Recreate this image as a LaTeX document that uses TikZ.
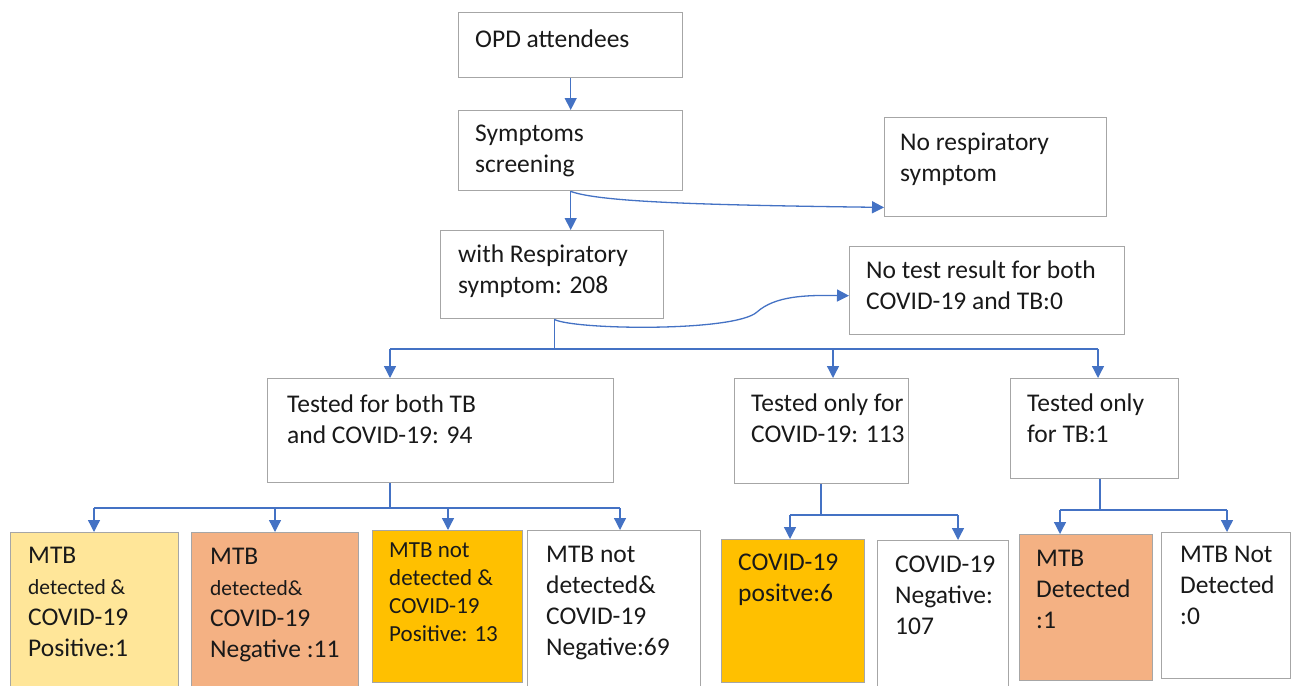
\documentclass[tikz,border=0pt]{standalone}
\usepackage{fontspec}
\setmainfont{Carlito}
\usetikzlibrary{arrows.meta,calc}
\definecolor{edgegray}{HTML}{A6A6A6}
\definecolor{linkblue}{HTML}{4472C4}
\definecolor{paleyellow}{HTML}{FFE699}
\definecolor{peach}{HTML}{F4B183}
\definecolor{amber}{HTML}{FFC000}
\begin{document}
% Text nodes are placed by the baseline of their last line.
\begin{tikzpicture}[x=1pt,y=-1pt,
  box/.style={draw=edgegray,line width=1.4pt,rectangle,anchor=north west,inner sep=0pt},
  txt/.style={anchor=base west,align=left,inner sep=0pt,font=\fontsize{25.5}{31}\selectfont,text=black!90},
  small/.style={txt,font=\fontsize{23}{28}\selectfont},
  link/.style={draw=linkblue,line width=1.3pt},
  arr/.style={link,-{Triangle[width=12pt,length=12pt]}}]
\useasboundingbox (0,0) rectangle (1295,685);

% ---------- upper chain ----------
\node[box,minimum width=224pt,minimum height=65pt] (opd) at (458,12) {};
\node[txt] (opdt) at (475,48) {OPD attendees};

\node[box,minimum width=224pt,minimum height=80pt] (scr) at (458,110) {};
\node[txt] (scrt) at (475,172) {Symptoms\\screening};

\node[box,minimum width=222pt,minimum height=99pt] (nores) at (884,117) {};
\node[txt] (norest) at (900,181) {No respiratory\\symptom};

\node[box,minimum width=223pt,minimum height=88pt] (resp) at (440,230) {};
\node[txt] (respt) at (458,293) {with Respiratory\\symptom: 208};

\node[box,minimum width=275pt,minimum height=88pt] (notest) at (849,246) {};
\node[txt] (notestt) at (866,309) {No test result for both\\COVID-19 and TB:0};

% ---------- test groups ----------
\node[box,minimum width=346pt,minimum height=104pt] (both) at (267,378) {};
\node[txt] (botht) at (287,443) {Tested for both TB\\and COVID-19: 94};

\node[box,minimum width=174pt,minimum height=105pt] (cov) at (734,378) {};
\node[txt] (covt) at (751,442) {Tested only for\\COVID-19: 113};

\node[box,minimum width=168pt,minimum height=100pt] (tb) at (1010,378) {};
\node[txt] (tbt) at (1027,442) {Tested only\\for TB:1};

% ---------- outcomes ----------
\node[box,fill=paleyellow,minimum width=168pt,minimum height=160pt] (o1) at (10,532) {};
\node[txt] (o1t) at (28,656) {MTB\\{\fontsize{21.5}{31}\selectfont detected \&}\\COVID-19\\Positive:1};

\node[box,fill=peach,minimum width=167pt,minimum height=160pt] (o2) at (191,532) {};
\node[txt] (o2t) at (210,657) {MTB\\{\fontsize{21.5}{31}\selectfont detected\&}\\COVID-19\\Negative :11};

\node[box,fill=amber,minimum width=150pt,minimum height=152pt] (o3) at (372,530) {};
\node[small] (o3t) at (389,641) {MTB not\\detected \&\\COVID-19\\Positive: 13};

\node[box,minimum width=173pt,minimum height=160pt] (o4) at (527,530) {};
\node[txt] (o4t) at (546,655) {MTB not\\detected\&\\COVID-19\\Negative:69};

\node[box,fill=amber,minimum width=143pt,minimum height=143pt] (o5) at (721,539) {};
\node[txt] (o5t) at (738,601) {COVID-19\\positve:6};

\node[box,minimum width=131pt,minimum height=150pt] (o6) at (877,540) {};
\node[txt] (o6t) at (895,634) {COVID-19\\Negative:\\107};

\node[box,fill=peach,minimum width=133pt,minimum height=146pt] (o7) at (1019,534) {};
\node[txt] (o7t) at (1036,628) {MTB\\Detected\\:1};

\node[box,minimum width=129pt,minimum height=146pt] (o8) at (1161,532) {};
\node[txt] (o8t) at (1180,624) {MTB Not\\Detected\\:0};

% ---------- connectors ----------
\draw[arr] (opd.south) -- (scr.north);
\draw[arr] (scr.south) -- (scr.south |- resp.north);
\coordinate (nr) at ($(nores.south west)+(0,-10)$);
\draw[arr] (scr.south) .. controls (600,202) and (700,205) .. (nr);

\coordinate (nt) at ($(notest.west)+(0,5)$);
\draw[arr] ($(resp.south)+(2,0)$) .. controls (575,330) and (735,332) .. (757,312)
  .. controls (775,296) and (805,295) .. (nt);

\coordinate (j1) at ($(resp.south)+(2,31)$);
\coordinate (b1) at (390,349);
\coordinate (b2) at (833,349);
\coordinate (b3) at (1098,349);
\draw[link] ($(resp.south)+(2,0)$) -- (j1);
\draw[link] (b1) -- (b3);
\draw[arr] (b1) -- (b1 |- both.north);
\draw[arr] (b2) -- (b2 |- cov.north);
\draw[arr] (b3) -- (b3 |- tb.north);

\coordinate (j2) at (390,508);
\coordinate (c1) at (94,508);
\coordinate (c2) at (275,508);
\coordinate (c3) at (448,508);
\coordinate (c4) at (620,508);
\draw[link] (j2 |- both.south) -- (j2);
\draw[link] (c1) -- (c4);
\draw[arr] (c1) -- (c1 |- o1.north);
\draw[arr] (c2) -- (c2 |- o2.north);
\draw[arr] (c3) -- (c3 |- o3.north);
\draw[arr] (c4) -- (c4 |- o4.north);

\coordinate (j3) at (821,515);
\coordinate (d1) at (790,515);
\coordinate (d2) at (958,515);
\draw[link] (j3 |- cov.south) -- (j3);
\draw[link] (d1) -- (d2);
\draw[arr] (d1) -- (d1 |- o5.north);
\draw[arr] (d2) -- (d2 |- o6.north);

\coordinate (j4) at (1100,510);
\coordinate (e1) at (1060,510);
\coordinate (e2) at (1227,510);
\draw[link] (j4 |- tb.south) -- (j4);
\draw[link] (e1) -- (e2);
\draw[arr] (e1) -- (e1 |- o7.north);
\draw[arr] (e2) -- (e2 |- o8.north);
\end{tikzpicture}
\end{document}
